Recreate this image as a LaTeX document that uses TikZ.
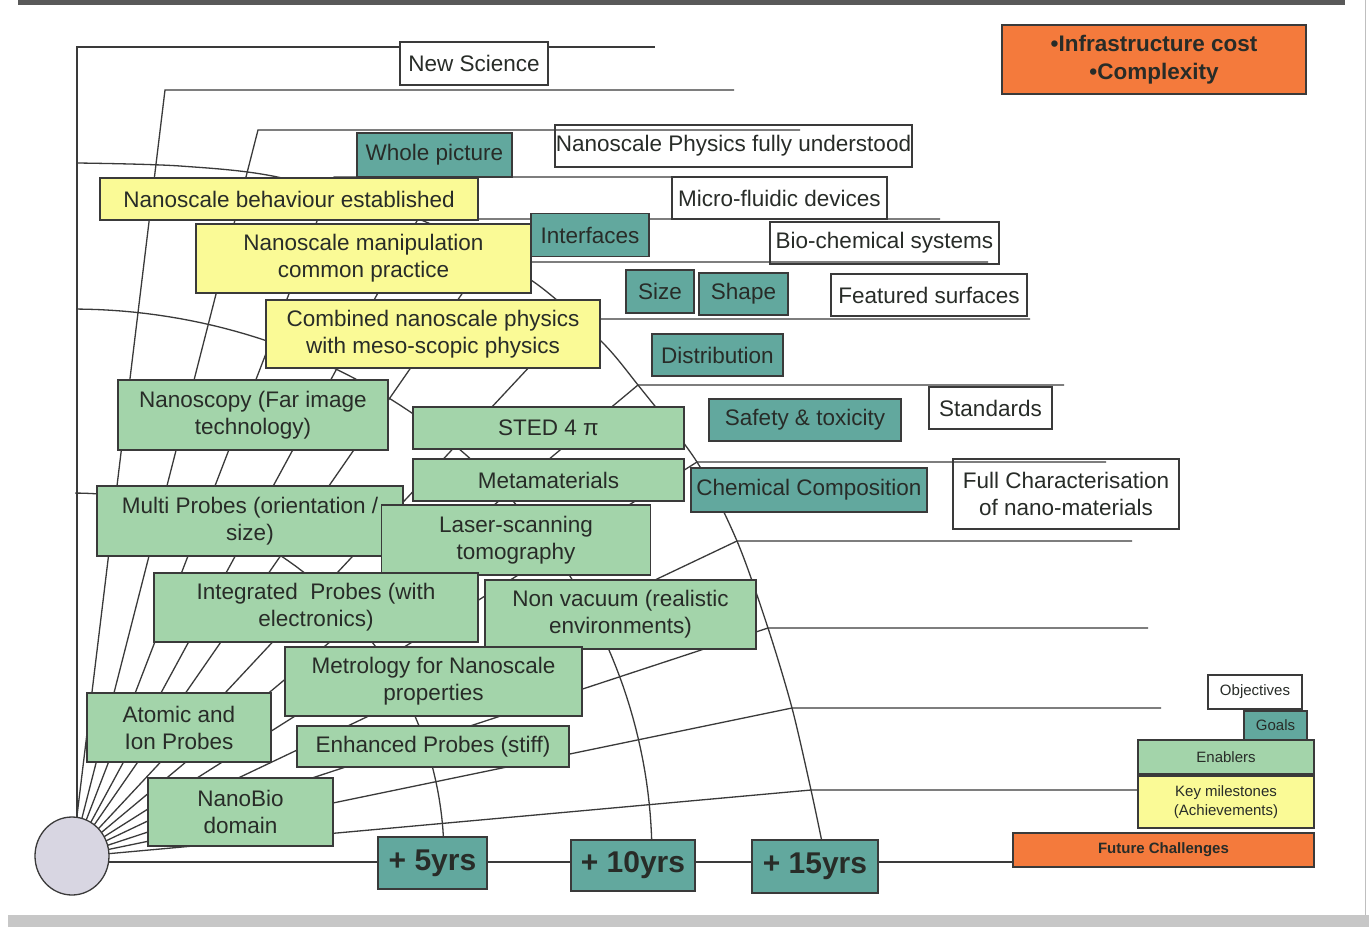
\documentclass[tikz,border=0pt]{standalone}
\usepackage{fontspec}
\setmainfont{Liberation Sans}
\usetikzlibrary{shapes.geometric}
\definecolor{inkline}{RGB}{58,58,58}
\definecolor{inktext}{RGB}{40,44,40}
\definecolor{tealbox}{RGB}{98,168,158}
\definecolor{greenbox}{RGB}{163,212,170}
\definecolor{yelbox}{RGB}{250,250,150}
\definecolor{orabox}{RGB}{244,122,60}
\definecolor{hubfill}{RGB}{216,214,226}
\begin{document}
\begin{tikzpicture}[x=1pt,y=-1pt,
  web/.style={draw=inkline,line width=1.3pt},
  box/.style={draw=inkline,line width=1.3pt,inner sep=0pt,align=center,text=inktext,
              font=\fontsize{22.5}{27}\selectfont},
  dim/.style 2 args={minimum width=#1pt,minimum height=#2pt},
  plain/.style={box,fill=white},
  goal/.style={box,fill=tealbox},
  enabler/.style={box,fill=greenbox},
  milestone/.style={box,fill=yelbox},
  challenge/.style={box,fill=orabox,font=\bfseries\fontsize{22.5}{28}\selectfont},
  year/.style={box,fill=tealbox,font=\bfseries\fontsize{30}{34}\selectfont},
  legend/.style={font=\fontsize{15}{19}\selectfont}
]
\useasboundingbox (0,0) rectangle (1369,929);
\fill[white] (0,0) rectangle (1369,929);

% page frame
\fill[black!65] (18,0) rectangle (1345,5);
\fill[black!22] (8,915) rectangle (1369,927);
\draw[black!25,line width=1pt] (1365,0) -- (1365,915);

% objectives (white boxes sit below the web lines)
\node[plain,dim={357}{42}] (physics) at (733.5,146) {Nanoscale Physics fully understood};
\node[plain,dim={215}{42}] (fluidic) at (779.5,198) {Micro-fluidic devices};
\node[plain,dim={229}{42}] (biochem) at (884.5,243) {Bio-chemical systems};
\node[plain,dim={196}{42}] (surfaces) at (929,295) {Featured surfaces};
\node[plain,dim={123}{42}] (standards) at (990.5,408) {Standards};
\node[plain,dim={226}{70}] (fullchar) at (1066,494) {Full Characterisation\\of nano-materials};

% the web: spokes from the hub, bending into horizontal rows
\coordinate (O) at (72,857);
\draw[web] (77,857) -- (77,47) -- (655,47);
\foreach \bx/\by/\ex in {165/90/734, 258/130/800, 334/177/877, 418/219/940,
                         484/262/988, 574/319/1030, 638/385/1064, 697/462/1106,
                         737/541/1132, 768/628/1148, 792/708/1161, 811/790/1138}
  \draw[web] (O) -- (\bx,\by) -- (\ex,\by);
\coordinate (axisend) at (1013,862);
\draw[web] (72,862) -- (axisend);

% time rings
\draw[web] plot[domain=0:89.5,samples=60] ({72+372*cos(\x)},{857-364*sin(\x)});
\draw[web] plot[domain=0:89.5,samples=80] ({72+580*cos(\x)},{857-548*sin(\x)});
\draw[web] plot[smooth] coordinates {(77,163) (180,166) (282,178) (426,222) (531,280)
  (600,340) (638,385) (697,462) (737,541) (768,628) (792,708) (811,790) (822,842)};

% hub
\node[ellipse,draw=inkline,line width=1.3pt,fill=hubfill,minimum width=74pt,minimum height=78pt] (hub) at (72,856) {};

% objective above the web
\node[plain,dim={148}{43}] (newsci) at (474,63.5) {New Science};

% future challenges
\node[challenge,dim={304}{69}] (infra) at (1154,59.5) {\textbullet Infrastructure cost\\\textbullet Complexity};

% goals
\node[goal,dim={155}{44}] (whole) at (434.5,155) {Whole picture};
\node[goal,dim={118}{43}] (interf) at (590,235) {Interfaces};
\node[goal,dim={68}{43}] (size) at (660,291.5) {Size};
\node[goal,dim={89}{42}] (shape) at (743.5,294) {Shape};
\node[goal,dim={131}{42}] (distrib) at (717.5,355) {Distribution};
\node[goal,dim={192}{42}] (safety) at (805,420) {Safety \& toxicity};
\node[goal,dim={236}{44}] (chem) at (809,490) {Chemical Composition};

% key milestones
\node[milestone,dim={378}{42}] (behav) at (289,199) {Nanoscale behaviour established};
\node[milestone,dim={335}{69}] (manip) at (363.5,258.5) {Nanoscale manipulation\\common practice};
\node[milestone,dim={334}{68}] (combined) at (433,334) {Combined nanoscale physics\\with meso-scopic physics};

% enablers
\node[enabler,dim={270}{70}] (nanoscopy) at (253,415) {Nanoscopy (Far image\\technology)};
\node[enabler,dim={271}{42}] (sted) at (548.5,428) {STED 4 π};
\node[enabler,dim={271}{42}] (meta) at (548.5,480) {Metamaterials};
\node[enabler,dim={306}{70}] (multi) at (250,521) {Multi Probes (orientation /\\size)};
\node[enabler,dim={269}{70}] (laser) at (516,540) {Laser-scanning\\tomography};
\node[enabler,dim={324}{69}] (integ) at (316,607.5) {Integrated\ \ Probes (with\\electronics)};
\node[enabler,dim={271}{69}] (nonvac) at (620.5,614.5) {Non vacuum (realistic\\environments)};
\node[enabler,dim={297}{69}] (metro) at (433.5,681.5) {Metrology for Nanoscale\\properties};
\node[enabler,dim={184}{69}] (atomic) at (179,727.5) {Atomic and\\Ion Probes};
\node[enabler,dim={272}{41}] (enhanced) at (433,746.5) {Enhanced Probes (stiff)};
\node[enabler,dim={185}{68}] (nanobio) at (240.5,812) {NanoBio\\domain};

% time scale
\node[year,dim={109}{52}] (y5) at (432.5,863) {+ 5yrs};
\node[year,dim={124}{51}] (y10) at (633,865.5) {+ 10yrs};
\node[year,dim={126}{53}] (y15) at (815,866.5) {+ 15yrs};

% legend
\node[plain,legend,dim={94}{34}] (objectives) at (1255,692) {Objectives};
\node[goal,legend,dim={63}{29}] (goals) at (1275.5,725.5) {Goals};
\node[enabler,legend,dim={176}{34}] (enablers) at (1226,757) {Enablers};
\node[milestone,font=\fontsize{15}{19}\selectfont,dim={176}{52}] (keymile) at (1226,802) {Key milestones\\(Achievements)};
\node[challenge,font=\bfseries\fontsize{15}{19}\selectfont,dim={301}{34}] (future) at (1163.5,850) {Future Challenges};
\end{tikzpicture}
\end{document}
